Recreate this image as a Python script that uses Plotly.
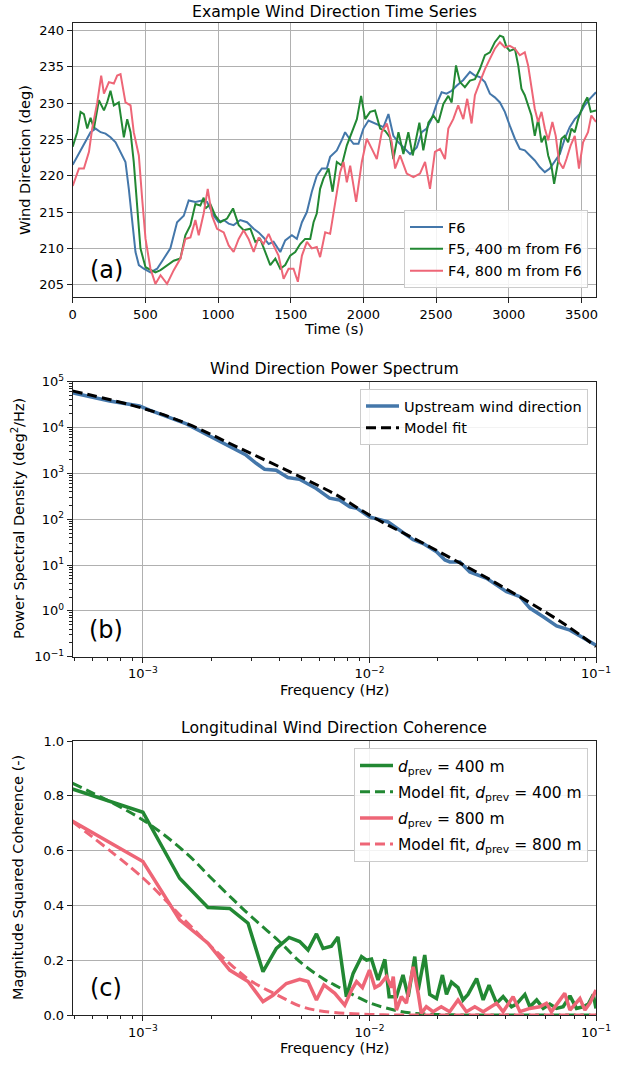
import numpy as np
import plotly.graph_objects as go

# ---------------- Panel (a): wind direction time series ----------------
t_f6 = [0, 54, 89, 123, 157, 192, 226, 260, 295, 329,
        363, 386, 409, 432, 455, 489, 535, 581, 627, 672,
        718, 764, 798, 844, 890, 924, 970, 1004, 1039, 1073,
        1107, 1153, 1199, 1245, 1279, 1313, 1348, 1382, 1428, 1462,
        1508, 1542, 1577, 1611, 1645, 1679, 1714, 1748, 1771, 1817,
        1851, 1874, 1897, 1932, 1966, 2000, 2035, 2069, 2103, 2138,
        2172, 2206, 2241, 2275, 2321, 2367, 2401, 2435, 2469, 2504,
        2538, 2572, 2607, 2641, 2687, 2733, 2767, 2801, 2836, 2870,
        2904, 2939, 2973, 3007, 3042, 3076, 3110, 3145, 3179, 3213,
        3248, 3282, 3316, 3351, 3385, 3419, 3454, 3488, 3522, 3557,
        3600]
wd_f6 = [221.5, 223.5, 224.6, 226.0, 226.5, 226.0, 225.8, 225.3, 224.6, 223.3,
         221.9, 218.2, 213.6, 209.5, 207.7, 207.2, 206.7, 207.2, 208.6, 210.0,
         213.6, 214.5, 216.6, 216.4, 216.6, 216.4, 214.5, 213.6, 213.9, 213.4,
         213.2, 213.9, 213.6, 212.7, 212.2, 211.5, 210.6, 210.9, 209.5, 211.1,
         211.8, 211.3, 213.6, 215.0, 217.8, 220.0, 221.0, 221.0, 222.6, 223.5,
         224.9, 226.0, 225.3, 224.4, 224.4, 226.5, 227.6, 227.3, 226.9, 226.7,
         228.5, 225.5, 224.6, 223.9, 223.0, 223.9, 226.0, 226.5, 227.8, 229.9,
         231.5, 231.3, 231.7, 232.4, 233.2, 234.3, 233.8, 233.6, 232.9, 231.3,
         230.8, 230.1, 228.8, 226.9, 225.1, 223.7, 223.5, 222.8, 222.1, 221.2,
         220.5, 221.0, 221.9, 223.0, 225.1, 226.7, 227.8, 228.5, 229.7, 230.6,
         231.5]

t_f5 = [0, 31, 54, 77, 100, 123, 146, 180, 215, 237,
        260, 283, 317, 352, 375, 398, 420, 443, 466, 501,
        535, 569, 604, 649, 695, 741, 775, 810, 844, 878,
        901, 913, 947, 981, 1016, 1062, 1103, 1142, 1176, 1222,
        1256, 1290, 1325, 1359, 1394, 1428, 1462, 1496, 1531, 1565,
        1599, 1634, 1657, 1679, 1702, 1725, 1760, 1788, 1817, 1851,
        1886, 1920, 1955, 1984, 2012, 2046, 2080, 2115, 2149, 2183,
        2206, 2241, 2275, 2309, 2339, 2385, 2412, 2447, 2481, 2515,
        2550, 2584, 2607, 2637, 2664, 2698, 2733, 2767, 2801, 2836,
        2870, 2904, 2939, 2962, 2985, 3007, 3042, 3065, 3087, 3110,
        3133, 3156, 3179, 3202, 3225, 3248, 3271, 3293, 3312, 3339,
        3362, 3385, 3408, 3431, 3454, 3477, 3511, 3541, 3564, 3600]
wd_f5 = [224.0, 226.0, 228.8, 228.5, 226.5, 228.0, 226.5, 230.4, 229.0, 230.1,
         231.7, 229.7, 230.1, 225.3, 227.8, 226.0, 221.9, 215.5, 210.0, 207.4,
         207.0, 206.7, 207.0, 207.7, 208.3, 208.6, 211.8, 213.2, 216.1, 215.9,
         217.0, 215.5, 216.1, 214.5, 213.6, 214.1, 215.5, 213.2, 212.5, 212.7,
         210.9, 211.3, 209.5, 207.7, 208.6, 207.2, 207.7, 209.0, 209.5, 210.6,
         211.3, 211.3, 213.6, 214.8, 218.2, 219.6, 221.0, 217.8, 221.9, 221.4,
         224.2, 226.0, 227.8, 231.0, 227.8, 228.8, 229.0, 226.5, 226.2, 225.3,
         222.3, 226.0, 223.0, 226.0, 222.8, 227.3, 223.5, 227.3, 228.3, 227.3,
         229.9, 231.0, 230.1, 235.2, 232.9, 232.2, 233.1, 233.3, 234.7, 236.6,
         237.0, 238.4, 239.3, 239.1, 237.7, 237.2, 237.5, 235.2, 232.0, 231.1,
         229.7, 228.3, 225.5, 227.8, 224.6, 225.5, 222.8, 221.4, 218.9, 221.9,
         225.1, 225.5, 224.6, 226.5, 226.0, 227.8, 229.7, 230.8, 228.8, 229.0]

t_f4 = [0, 43, 77, 112, 134, 169, 196, 215, 249, 283,
        306, 329, 363, 398, 420, 455, 478, 501, 535, 569,
        604, 649, 695, 741, 775, 810, 844, 867, 901, 929,
        958, 993, 1039, 1073, 1107, 1142, 1176, 1210, 1245, 1279,
        1313, 1348, 1382, 1416, 1451, 1485, 1519, 1549, 1577, 1611,
        1645, 1679, 1702, 1737, 1771, 1806, 1840, 1863, 1886, 1909,
        1950, 1989, 2023, 2058, 2092, 2126, 2161, 2195, 2218, 2252,
        2298, 2344, 2389, 2424, 2458, 2492, 2527, 2561, 2584, 2618,
        2652, 2687, 2714, 2744, 2767, 2801, 2836, 2870, 2904, 2939,
        2973, 3007, 3042, 3076, 3110, 3133, 3156, 3179, 3202, 3225,
        3248, 3271, 3300, 3323, 3346, 3374, 3397, 3426, 3454, 3483,
        3511, 3545, 3568, 3600]
wd_f4 = [218.6, 221.0, 221.0, 223.3, 226.5, 230.1, 233.8, 231.3, 232.9, 232.7,
         233.8, 234.0, 230.1, 229.7, 226.0, 222.8, 216.8, 211.3, 207.2, 205.1,
         206.3, 205.1, 207.0, 208.6, 211.3, 211.5, 213.9, 211.8, 214.8, 218.2,
         214.5, 212.7, 212.2, 210.4, 209.5, 211.3, 212.5, 211.3, 209.5, 211.5,
         210.6, 212.0, 210.4, 209.0, 205.8, 207.2, 207.2, 205.4, 209.0, 210.9,
         210.0, 210.2, 208.8, 212.2, 212.0, 216.4, 220.5, 221.9, 219.1, 221.4,
         216.4, 221.9, 225.1, 223.7, 222.3, 226.0, 227.2, 224.6, 221.0, 222.8,
         220.3, 219.8, 220.3, 221.9, 218.2, 223.3, 223.7, 222.3, 226.5, 227.8,
         229.7, 227.8, 230.6, 227.2, 231.1, 232.9, 234.7, 236.1, 237.5, 238.4,
         237.7, 237.9, 237.5, 236.6, 237.0, 235.2, 232.0, 229.2, 227.4, 228.8,
         226.5, 224.9, 227.4, 225.5, 221.9, 221.0, 222.3, 224.2, 225.5, 221.0,
         224.6, 226.0, 228.3, 227.4]

# ---------------- Panel (b): power spectrum ----------------
psd_freq = [4.875e-4, 7.13e-4, 9.66e-4, 1.07e-3, 1.556e-3, 2.109e-3, 2.851e-3, 3.162e-3, 3.443e-3, 3.873e-3,
            4.365e-3, 4.909e-3, 5.821e-3, 6.668e-3, 7.379e-3, 8.185e-3, 8.77e-3, 0.01, 0.01109, 0.01208,
            0.01361, 0.0156, 0.01726, 0.01977, 0.02153, 0.02265, 0.02506, 0.02773, 0.03289, 0.04027,
            0.04613, 0.05105, 0.05848, 0.06699, 0.07674, 0.0879, 0.1]
psd_meas = [57500, 38000, 29500, 24000, 12000, 5370, 2510, 1660, 1230, 1175,
            813, 741, 468, 288, 263, 186, 174, 112, 95.5, 87.1,
            57.5, 35.5, 29.5, 19.5, 12.9, 11.7, 11.7, 7.08, 5.13, 2.63,
            2.04, 1.15, 0.741, 0.468, 0.380, 0.251, 0.178]
fit_freq = [4.875e-4, 1e-3, 1.556e-3, 2.673e-3, 4.60e-3, 7.14e-3, 0.01, 0.01845, 0.0364, 0.0716, 0.1]
psd_fit = [63100, 26300, 12300, 3550, 1000, 339, 123, 25.1, 3.98, 0.537, 0.166]

# ---------------- Panel (c): coherence (log10 of frequency in Hz) ----------------
coh400_logf = [-3.312, -3.0, -2.838, -2.713, -2.617, -2.536, -2.47, -2.411, -2.355, -2.308,
               -2.271, -2.234, -2.205, -2.168, -2.139, -2.102, -2.072, -2.035, -2.013, -1.991,
               -1.962, -1.932, -1.913, -1.881, -1.852, -1.829, -1.8, -1.785, -1.756, -1.734,
               -1.704, -1.678, -1.66, -1.638, -1.609, -1.587, -1.565, -1.527, -1.498, -1.472,
               -1.439, -1.41, -1.373, -1.351, -1.314, -1.292, -1.262, -1.233, -1.204, -1.174,
               -1.145, -1.115, -1.086, -1.057, -1.034, -1.012, -1.0]
coh400 = [0.825, 0.74, 0.499, 0.392, 0.389, 0.335, 0.158, 0.243, 0.283, 0.268,
          0.237, 0.296, 0.243, 0.251, 0.285, 0.067, 0.152, 0.213, 0.20, 0.204,
          0.128, 0.203, 0.067, 0.067, 0.146, 0.067, 0.213, 0.091, 0.219, 0.075,
          0.06, 0.146, 0.075, 0.12, 0.10, 0.055, 0.075, 0.133, 0.055, 0.109,
          0.043, 0.067, 0.03, 0.04, 0.075, 0.03, 0.055, 0.024, 0.04, 0.024,
          0.03, 0.07, 0.024, 0.03, 0.04, 0.075, 0.024]
coh800_logf = [-3.312, -3.0, -2.838, -2.713, -2.617, -2.536, -2.47, -2.426, -2.367, -2.308,
               -2.271, -2.234, -2.201, -2.153, -2.109, -2.079, -2.057, -2.031, -2.0, -1.976,
               -1.954, -1.925, -1.903, -1.895, -1.881, -1.859, -1.837, -1.807, -1.785, -1.771,
               -1.749, -1.719, -1.683, -1.646, -1.609, -1.572, -1.535, -1.498, -1.439, -1.41,
               -1.366, -1.336, -1.292, -1.248, -1.219, -1.197, -1.138, -1.115, -1.071, -1.049,
               -1.027, -1.0]
coh800 = [0.708, 0.56, 0.347, 0.262, 0.164, 0.122, 0.049, 0.072, 0.115, 0.13,
          0.122, 0.055, 0.11, 0.079, 0.036, 0.091, 0.122, 0.10, 0.164, 0.10,
          0.11, 0.14, 0.10, 0.14, 0.018, 0.067, 0.043, 0.176, 0.079, 0.006,
          0.03, 0.012, 0.03, 0.012, 0.055, 0.012, 0.03, 0.012, 0.043, 0.012,
          0.067, 0.012, 0.024, 0.03, 0.043, 0.012, 0.079, 0.018, 0.06, 0.018,
          0.043, 0.091]
fit400_logf = [-3.312, -3.0, -2.808, -2.699, -2.6, -2.523, -2.4, -2.301, -2.2, -2.155, -2.0, -1.9, -1.824, -1.7, -1.5, -1.0]
fit400 = [0.846, 0.712, 0.59, 0.50, 0.42, 0.36, 0.27, 0.19, 0.13, 0.11, 0.045, 0.02, 0.008, 0.002, 0.0, 0.0]
fit800_logf = [-3.312, -3.0, -2.808, -2.699, -2.6, -2.523, -2.4, -2.301, -2.2, -2.0, -1.8, -1.0]
fit800 = [0.706, 0.50, 0.34, 0.25, 0.175, 0.124, 0.07, 0.031, 0.013, 0.002, 0.0, 0.0]

# ---------------- Styling ----------------
FONT = "DejaVu Sans"
C_BLUE, C_GREEN, C_PINK = "#4477AA", "#228833", "#EE6677"
W, H = 621, 1065
XDOM = [72.7 / W, 596 / W]


def ydom(top_px, bot_px):
    return [1 - bot_px / H, 1 - top_px / H]


fig = go.Figure()

# (a)
fig.add_trace(go.Scatter(x=t_f6, y=wd_f6, mode="lines", name="F6",
                         line=dict(color=C_BLUE, width=2), xaxis="x", yaxis="y", legend="legend"))
fig.add_trace(go.Scatter(x=t_f5, y=wd_f5, mode="lines", name="F5, 400 m from F6",
                         line=dict(color=C_GREEN, width=2), xaxis="x", yaxis="y", legend="legend"))
fig.add_trace(go.Scatter(x=t_f4, y=wd_f4, mode="lines", name="F4, 800 m from F6",
                         line=dict(color=C_PINK, width=2), xaxis="x", yaxis="y", legend="legend"))

# (b)
fig.add_trace(go.Scatter(x=psd_freq, y=psd_meas, mode="lines", name="Upstream wind direction",
                         line=dict(color=C_BLUE, width=3.5), xaxis="x2", yaxis="y2", legend="legend2"))
fig.add_trace(go.Scatter(x=fit_freq, y=psd_fit, mode="lines", name="Model fit",
                         line=dict(color="black", width=3, dash="10px,5px", shape="spline"),
                         xaxis="x2", yaxis="y2", legend="legend2"))

# (c)
fig.add_trace(go.Scatter(x=10 ** np.array(coh400_logf), y=coh400, mode="lines", legendgroup="c1",
                         name="<i>d</i><sub>prev</sub> = 400 m",
                         line=dict(color=C_GREEN, width=3.5), xaxis="x3", yaxis="y3", legend="legend3"))
fig.add_trace(go.Scatter(x=10 ** np.array(fit400_logf), y=fit400, mode="lines", legendgroup="c2",
                         name="Model fit, <i>d</i><sub>prev</sub> = 400 m",
                         line=dict(color=C_GREEN, width=3, dash="10px,5px", shape="spline"),
                         xaxis="x3", yaxis="y3", legend="legend3"))
fig.add_trace(go.Scatter(x=10 ** np.array(coh800_logf), y=coh800, mode="lines", legendgroup="c3",
                         name="<i>d</i><sub>prev</sub> = 800 m",
                         line=dict(color=C_PINK, width=3.5), xaxis="x3", yaxis="y3", legend="legend3"))
fig.add_trace(go.Scatter(x=10 ** np.array(fit800_logf), y=fit800, mode="lines", legendgroup="c4",
                         name="Model fit, <i>d</i><sub>prev</sub> = 800 m",
                         line=dict(color=C_PINK, width=3, dash="10px,5px", shape="spline"),
                         xaxis="x3", yaxis="y3", legend="legend3"))

axis_common = dict(showline=True, linecolor="#222222", linewidth=1, mirror=True,
                   ticks="outside", ticklen=5, tickwidth=1, tickcolor="#222222",
                   showgrid=True, gridcolor="#b0b0b0", gridwidth=1, zeroline=False,
                   automargin=False, tickfont=dict(family=FONT, size=13, color="black"))

log_minor_vals = [m * 10.0 ** e for e in range(-5, 6) for m in range(2, 10)]
log_minor = dict(tickmode="array", tickvals=log_minor_vals, ticks="outside", ticklen=3,
                 tickwidth=0.8, tickcolor="#222222", showgrid=False)


def pow_label(e):
    return "10<sup>" + ("\u2212" + str(-e) if e < 0 else str(e)) + "</sup>"


x_log_vals = [1e-3, 1e-2, 1e-1]
x_log_text = [pow_label(e) for e in (-3, -2, -1)]
y_log_vals = [10.0 ** e for e in range(-1, 6)]
y_log_text = [pow_label(e) for e in range(-1, 6)]

fig.update_layout(
    xaxis=dict(axis_common, domain=XDOM, anchor="y", range=[0, 3600], tick0=0, dtick=500),
    yaxis=dict(axis_common, domain=ydom(23.3, 297), anchor="x", range=[203.3, 241], tick0=205, dtick=5),
    xaxis2=dict(axis_common, domain=XDOM, anchor="y2", type="log", range=[-3.31, -1],
                tickmode="array", tickvals=x_log_vals, ticktext=x_log_text, minor=log_minor),
    yaxis2=dict(axis_common, domain=ydom(381.7, 656.7), anchor="x2", type="log", range=[-1, 5],
                tickmode="array", tickvals=y_log_vals, ticktext=y_log_text, minor=log_minor),
    xaxis3=dict(axis_common, domain=XDOM, anchor="y3", type="log", range=[-3.31, -1],
                tickmode="array", tickvals=x_log_vals, ticktext=x_log_text, minor=log_minor),
    yaxis3=dict(axis_common, domain=ydom(741, 1015), anchor="x3", range=[0, 1], tick0=0, dtick=0.2,
                tickformat=".1f"),
)

legend_common = dict(bgcolor="rgba(255,255,255,0.85)",
                     bordercolor="#cccccc", borderwidth=1, xanchor="right", itemwidth=33)
fig.update_layout(
    legend=dict(legend_common, font=dict(family=FONT, size=14.5, color="black"),
                x=588 / W, y=1 - 288 / H, yanchor="bottom"),
    legend2=dict(legend_common, font=dict(family=FONT, size=14.5, color="black"),
                 x=588 / W, y=1 - 389 / H, yanchor="top"),
    legend3=dict(legend_common, font=dict(family=FONT, size=15.5, color="black"),
                 x=588 / W, y=1 - 748 / H, yanchor="top", tracegroupgap=3),
)

ann = []
title_font = dict(family=FONT, size=15.7, color="black")
label_font = dict(family=FONT, size=14.5, color="black")
xc = (72.7 + 596) / 2 / W
for text, ypx in [("Example Wind Direction Time Series", 12),
                  ("Wind Direction Power Spectrum", 368),
                  ("Longitudinal Wind Direction Coherence", 727)]:
    ann.append(dict(text=text, x=xc, y=1 - ypx / H, xref="paper", yref="paper",
                    showarrow=False, font=title_font, xanchor="center", yanchor="middle"))
for text, ypx in [("Time (s)", 329), ("Frequency (Hz)", 690), ("Frequency (Hz)", 1048)]:
    ann.append(dict(text=text, x=xc, y=1 - ypx / H, xref="paper", yref="paper",
                    showarrow=False, font=label_font, xanchor="center", yanchor="middle"))
for text, xpx, ypx in [("Wind Direction (deg)", 25, 160),
                       ("Power Spectral Density (deg<sup>2</sup>/Hz)", 18, 519),
                       ("Magnitude Squared Coherence (-)", 18, 878)]:
    ann.append(dict(text=text, x=xpx / W, y=1 - ypx / H, xref="paper", yref="paper", textangle=-90,
                    showarrow=False, font=label_font, xanchor="center", yanchor="middle"))
for text, ypx in [("(a)", 270), ("(b)", 630), ("(c)", 988)]:
    ann.append(dict(text=text, x=106 / W, y=1 - ypx / H, xref="paper", yref="paper",
                    showarrow=False, font=dict(family=FONT, size=24, color="black"),
                    xanchor="center", yanchor="middle"))

fig.update_layout(
    annotations=ann,
    width=W, height=H, autosize=False,
    margin=dict(l=0, r=0, t=0, b=0),
    paper_bgcolor="white", plot_bgcolor="white",
    template="none",
    font=dict(family=FONT, size=14, color="black"),
)

fig.write_html("out.html", config={"displayModeBar": False},
               post_script="document.body.style.margin='0';document.body.style.padding='0';")
